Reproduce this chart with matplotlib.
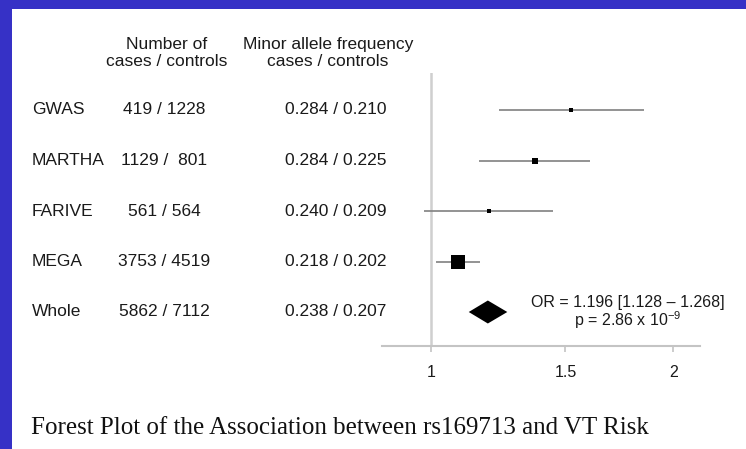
import numpy as np
import matplotlib
matplotlib.use("Agg")
import matplotlib.pyplot as plt
from matplotlib.patches import Rectangle, Polygon
from matplotlib.transforms import blended_transform_factory

# ---- study data -------------------------------------------------------
studies = ["GWAS", "MARTHA", "FARIVE", "MEGA"]
n_cases_controls = ["419 / 1228", "1129 /  801", "561 / 564", "3753 / 4519"]
maf_cases_controls = ["0.284 / 0.210", "0.284 / 0.225", "0.240 / 0.209", "0.218 / 0.202"]
odds_ratio = [1.524, 1.375, 1.200, 1.091]
ci_lower = [1.237, 1.164, 0.978, 1.017]
ci_upper = [1.855, 1.606, 1.449, 1.168]

pooled_label = "Whole"
pooled_n = "5862 / 7112"
pooled_maf = "0.238 / 0.207"
pooled_or = 1.196
pooled_lower = 1.128
pooled_upper = 1.268
pooled_p = "2.86"
pooled_p_exp = -9

x_ticks = [1, 1.5, 2]
x_tick_labels = ["1", "1.5", "2"]

header_n = "Number of\ncases / controls"
header_maf = "Minor allele frequency\ncases / controls"
caption = "Forest Plot of the Association between rs169713 and VT Risk"

# ---- figure -----------------------------------------------------------
W, H = 746, 449
plt.rcParams["font.family"] = ["Liberation Sans", "DejaVu Sans"]
plt.rcParams["mathtext.default"] = "regular"
fig = plt.figure(figsize=(W / 100, H / 100), dpi=100)
fig.patch.set_facecolor("white")

blue = "#3631c6"
fig.patches.append(Rectangle((0, 1 - 9 / H), 1, 9 / H, transform=fig.transFigure,
                             facecolor=blue, edgecolor="none", zorder=0))
fig.patches.append(Rectangle((0, 0), 12 / W, 1, transform=fig.transFigure,
                             facecolor=blue, edgecolor="none", zorder=0))


def fx(px):
    return px / W


def fy(py):
    return 1 - py / H


# forest panel
left_px, right_px, top_px, bot_px = 382, 700, 73, 346
ax = fig.add_axes([fx(left_px), fy(bot_px), fx(right_px - left_px), (bot_px - top_px) / H])
ax.patch.set_alpha(0)

p = 0.35
ax.set_xscale("function", functions=(lambda v: np.power(np.clip(v, 1e-9, None), p),
                                     lambda v: np.power(np.clip(v, 1e-9, None), 1 / p)))
ax.set_xlim(0.8505, 2.138)
row_px = 50.5
first_row_px = 110
ax.set_ylim((bot_px - first_row_px) / row_px, (top_px - first_row_px) / row_px)

for s in ["top", "right", "left"]:
    ax.spines[s].set_visible(False)
ax.spines["bottom"].set_color("#c4c4c4")
ax.spines["bottom"].set_linewidth(1.5)
ax.set_yticks([])
ax.set_xticks(x_ticks)
ax.set_xticklabels(x_tick_labels)
ax.xaxis.set_minor_locator(matplotlib.ticker.NullLocator())
ax.tick_params(axis="x", length=4, width=1.2, color="#c4c4c4", pad=10,
               labelsize=11.5, labelcolor="#1a1a1a")

ax.axvline(1, color="#cfcfcf", lw=1.8, zorder=1)

rows = np.arange(len(studies))
se = np.log(np.array(ci_upper) / np.array(ci_lower))
box_px = 14 * se.min() / se
for i in rows:
    ax.plot([ci_lower[i], ci_upper[i]], [i, i], color="#808080", lw=1.2,
            solid_capstyle="butt", zorder=2)
    ax.plot(odds_ratio[i], i, marker="s", color="black",
            markersize=box_px[i] * 0.72, markeredgewidth=0, zorder=3)

yp = len(studies)
half_h = 11.5 / row_px
ax.add_patch(Polygon([[pooled_lower, yp], [pooled_or, yp - half_h],
                      [pooled_upper, yp], [pooled_or, yp + half_h]],
                     closed=True, facecolor="black", edgecolor="none", zorder=3))

# ---- table text ---------------------------------------------------------
tc = "#1a1a1a"
fs = 12.5
trans = blended_transform_factory(fig.transFigure, ax.transData)
labels = studies + [pooled_label]
ns = n_cases_controls + [pooled_n]
mafs = maf_cases_controls + [pooled_maf]
for i, (lab, n, m) in enumerate(zip(labels, ns, mafs)):
    ax.text(fx(32), i, lab, transform=trans, ha="left", va="center",
            fontsize=fs, color=tc, clip_on=False)
    ax.text(fx(164), i, n, transform=trans, ha="center", va="center",
            fontsize=fs, color=tc, clip_on=False)
    ax.text(fx(336), i, m, transform=trans, ha="center", va="center",
            fontsize=fs, color=tc, clip_on=False)

fig.text(fx(167), fy(53), header_n, ha="center", va="center", fontsize=fs,
         color=tc, linespacing=1.2, multialignment="center")
fig.text(fx(328), fy(53), header_maf, ha="center", va="center", fontsize=fs,
         color=tc, linespacing=1.2, multialignment="center")

fig.text(fx(628), fy(302),
         f"OR = {pooled_or:.3f} [{pooled_lower:.3f} \u2013 {pooled_upper:.3f}]",
         ha="center", va="center", fontsize=11.5, color=tc)
fig.text(fx(628), fy(320), f"p = {pooled_p} x 10$^{{{pooled_p_exp}}}$",
         ha="center", va="center", fontsize=11.5, color=tc)

fig.text(fx(31), fy(428), caption, ha="left", va="center", fontsize=18,
         color="#111111", family=["Liberation Serif", "DejaVu Serif"])

fig.savefig("out.png", dpi=100)
